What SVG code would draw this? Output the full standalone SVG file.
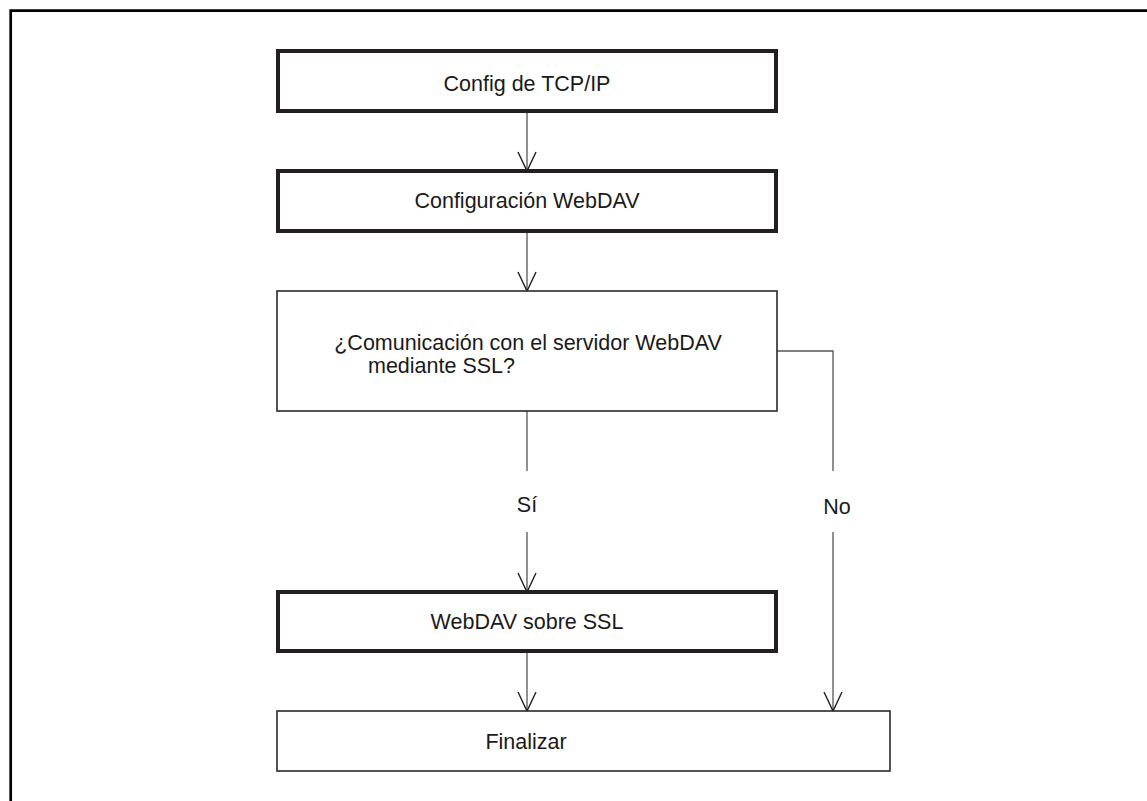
<svg xmlns="http://www.w3.org/2000/svg" width="1147" height="801" viewBox="0 0 1147 801">
<defs>
<style>
.thick{fill:#fff;stroke:#231f20;stroke-width:4}
.thin{fill:#fff;stroke:#2a2a2a;stroke-width:1.6}
.lbl{font-family:"Liberation Sans",Arial,Helvetica,sans-serif;font-size:21.5px;fill:#1a1a1a;text-anchor:middle}
.conn{fill:none;stroke:#555;stroke-width:1.3}
</style>
<marker id="arr" markerUnits="userSpaceOnUse" markerWidth="24" markerHeight="24" refX="0" refY="0" orient="auto" overflow="visible">
<path d="M-19,-9 L0,0 L-19,9" fill="none" stroke="#231f20" stroke-width="1.4"/>
</marker>
</defs>
<rect width="1147" height="801" fill="#fff"/>
<path d="M10.7,801 V10.7 H1147" fill="none" stroke="#000" stroke-width="2.7"/>
<g id="connectors">
<path class="conn" d="M527,111 V171" marker-end="url(#arr)"/>
<path class="conn" d="M527,231 V291" marker-end="url(#arr)"/>
<path class="conn" d="M527,411 V471"/>
<path class="conn" d="M527,532 V592" marker-end="url(#arr)"/>
<path class="conn" d="M527,651 V711" marker-end="url(#arr)"/>
<path class="conn" d="M777,351 H833 V471"/>
<path class="conn" d="M833,532 V711" marker-end="url(#arr)"/>
<text class="lbl" x="527" y="512">Sí</text>
<text class="lbl" x="837" y="514">No</text>
</g>
<g id="node-tcpip">
<rect class="thick" x="278" y="51" width="498" height="60"/>
<text class="lbl" x="527" y="91">Config de TCP/IP</text>
</g>
<g id="node-webdav-config">
<rect class="thick" x="278" y="171" width="498" height="60"/>
<text class="lbl" x="527" y="208">Configuración WebDAV</text>
</g>
<g id="node-decision">
<rect class="thin" x="277" y="291" width="500" height="120"/>
<text class="lbl" x="528" y="350">¿Comunicación con el servidor WebDAV</text>
<text class="lbl" x="368" y="373" style="text-anchor:start">mediante SSL?</text>
</g>
<g id="node-ssl">
<rect class="thick" x="278" y="592" width="498" height="59"/>
<text class="lbl" x="527" y="629">WebDAV sobre SSL</text>
</g>
<g id="node-end">
<rect class="thin" x="277" y="711" width="613" height="60"/>
<text class="lbl" x="526" y="749">Finalizar</text>
</g>
</svg>
